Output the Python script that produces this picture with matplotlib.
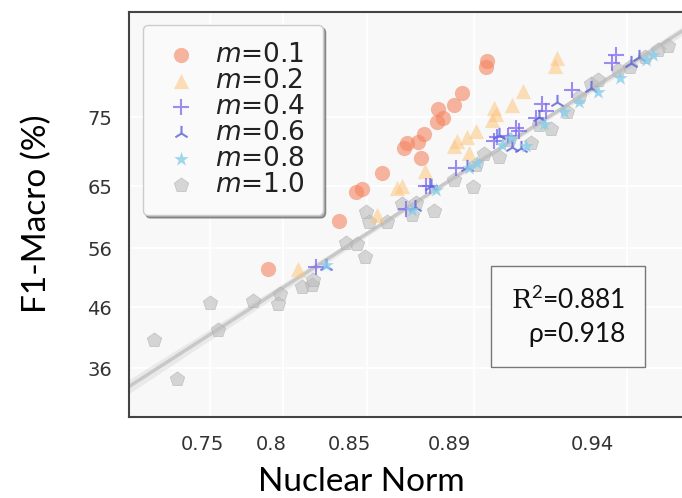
import matplotlib.pyplot as plt
import numpy as np

plt.rcParams['mathtext.fontset'] = 'custom'
plt.rcParams['mathtext.it'] = 'DejaVu Sans:italic'
plt.rcParams['mathtext.rm'] = 'DejaVu Serif'
plt.rcParams['mathtext.sf'] = 'Lato'

# data (x axis is not linear in the printed labels)
x01 = [0.7816, 0.8166, 0.8248, 0.8278, 0.8375, 0.8482, 0.8496, 0.8550, 0.8579,
       0.8564, 0.8642, 0.8671, 0.8647, 0.8725, 0.8764, 0.8880, 0.8885]
y01 = [51.38, 58.84, 63.35, 63.81, 66.30, 70.19, 70.97, 71.12, 72.36,
       68.63, 74.23, 74.85, 76.25, 76.87, 78.74, 82.77, 83.71]

x02 = [0.7962, 0.8351, 0.8448, 0.8472, 0.8584, 0.8725, 0.8739, 0.8788, 0.8832,
       0.8798, 0.8909, 0.8929, 0.8919, 0.9007, 0.9060, 0.9216, 0.9225]
y02 = [51.38, 59.78, 63.97, 64.28, 66.61, 70.50, 71.28, 71.90, 72.83,
       69.41, 74.54, 75.47, 76.40, 76.87, 79.05, 82.93, 84.17]

x04 = [0.8054, 0.8491, 0.8589, 0.8608, 0.8734, 0.8919, 0.8934, 0.8987, 0.9026,
       0.9041, 0.9123, 0.9152, 0.9172, 0.9298, 0.9493, 0.9517]
y04 = [51.70, 60.71, 64.28, 64.28, 67.08, 71.28, 71.90, 72.05, 73.30,
       72.83, 74.85, 77.03, 75.94, 79.20, 83.40, 84.64]

x06 = [0.8103, 0.8535, 0.8613, 0.8788, 0.9007, 0.9050, 0.9225, 0.9391, 0.9590,
       0.9629, 0.8943, 0.9138]
y06 = [51.85, 61.02, 64.28, 67.24, 70.34, 70.19, 77.34, 79.51, 83.40,
       84.33, 72.21, 75.01]

x08 = [0.8103, 0.8521, 0.8637, 0.8798, 0.8837, 0.8958, 0.9002, 0.9075, 0.9162,
       0.9259, 0.9332, 0.9429, 0.9536, 0.9663, 0.9697]
y08 = [52.01, 60.55, 63.66, 67.08, 67.86, 70.65, 71.74, 70.50, 73.92,
       75.78, 77.34, 78.89, 81.07, 83.86, 84.64]

x10 = [0.7262, 0.7374, 0.7534, 0.7573, 0.7743, 0.7874, 0.7869, 0.7986, 0.8030,
       0.8035, 0.8200, 0.8253, 0.8292, 0.8297, 0.8312, 0.8399, 0.8472, 0.8521,
       0.8540, 0.8628, 0.8817, 0.8832, 0.8871, 0.8943, 0.9099, 0.9196, 0.9274,
       0.9332, 0.9395, 0.9429, 0.9526, 0.9585, 0.9658, 0.9721, 0.9770, 0.9138,
       0.8992, 0.8725]
y10 = [40.35, 34.29, 46.10, 41.90, 46.41, 47.50, 45.95, 48.59, 48.90,
       49.68, 55.43, 55.27, 53.25, 60.24, 58.69, 58.69, 61.49, 59.78,
       61.64, 60.40, 64.13, 67.55, 69.25, 68.79, 70.97, 73.14, 75.78,
       78.11, 80.13, 80.76, 82.31, 82.77, 84.33, 85.42, 86.04, 73.76,
       71.43, 65.21]

xtick_pos = [0.75, 0.7835, 0.8214, 0.87, 0.94]
xtick_lab = ['0.75', '0.8', '0.85', '0.89', '0.94']
xgrid_pos = [0.7534, 0.7889, 0.8302, 0.8822, 0.9566]
ytick_pos = [36, 45.48, 54.65, 64.28, 75]
ytick_lab = ['36', '46', '56', '65', '75']

r2 = 0.881
rho = 0.918

fig = plt.figure(figsize=(6.82, 4.98), dpi=100)
ax = fig.add_axes([0.1891, 0.1627, 0.815, 0.8142])
ax.set_facecolor('#f8f8f8')
ax.set_xlim(0.714, 0.985)
ax.set_ylim(28.4, 91.4)

# regression on m>=0.4 with 95% band
xr = np.array(x04 + x06 + x08 + x10)
yr = np.array(y04 + y06 + y08 + y10)
b, a = np.polyfit(xr, yr, 1)
xs = np.linspace(0.714, 0.985, 100)
ys = a + b * xs
n = len(xr)
s = np.sqrt(np.sum((yr - (a + b * xr)) ** 2) / (n - 2))
se = s * np.sqrt(1.0 / n + (xs - xr.mean()) ** 2 / np.sum((xr - xr.mean()) ** 2))
ax.fill_between(xs, ys - 1.96 * se, ys + 1.96 * se, color='#c8c8c8', alpha=0.3, lw=0, zorder=1)
ax.plot(xs, ys, color='#c8c8c8', lw=2.5, zorder=1)

ms = 120
ax.scatter(x01, y01, s=ms, marker='o', color='#f4845f', alpha=0.6, lw=0, label='$m$=0.1', zorder=3)
ax.scatter(x02, y02, s=ms, marker='^', color='#fcc57f', alpha=0.55, lw=0, label='$m$=0.2', zorder=3)
ax.scatter(x04, y04, s=ms, marker='+', color='#7b68ee', alpha=0.75, lw=1.5, label='$m$=0.4', zorder=3)
ax.scatter(x06, y06, s=ms, marker='2', color='#5a62d8', alpha=0.8, lw=1.5, label='$m$=0.6', zorder=3)
ax.scatter(x08, y08, s=ms, marker='*', color='#87ceeb', alpha=0.8, lw=0, label='$m$=0.8', zorder=3)
ax.scatter(x10, y10, s=ms, marker='p', color='#bdbdbd', alpha=0.6, lw=0.5, edgecolor='#aaaaaa', label='$m$=1.0', zorder=2)

ax.set_xticks(xtick_pos)
ax.set_xticklabels(xtick_lab)
ax.set_xticks(xgrid_pos, minor=True)
ax.set_yticks(ytick_pos)
ax.set_yticklabels(ytick_lab)
ax.tick_params(which='both', length=0, labelsize=14, labelcolor='#333333')
ax.tick_params(axis='x', pad=13)
ax.tick_params(axis='y', pad=12)
ax.xaxis.grid(True, which='minor', color='white', lw=1.3)
ax.yaxis.grid(True, which='major', color='white', lw=1.3)
ax.set_axisbelow(True)

for sp in ['left', 'top', 'bottom']:
    ax.spines[sp].set_color('#444444')
    ax.spines[sp].set_linewidth(1.5)
ax.spines['right'].set_visible(False)

ax.set_xlabel('Nuclear Norm', fontsize=24, family='Lato')
ax.xaxis.set_label_coords(0.418, -0.16)
ax.xaxis.label.set_va('center')
ax.set_ylabel('F1-Macro (%)', fontsize=24, family='Lato')
ax.yaxis.set_label_coords(-0.166, 0.5)
ax.yaxis.label.set_va('center')

leg = ax.legend(loc='upper left', bbox_to_anchor=(0.025, 0.967), borderaxespad=0,
                fontsize=19, frameon=True, fancybox=True, shadow=True,
                labelspacing=0.0, handletextpad=0.5, borderpad=0.65, handlelength=1.6)
leg.get_frame().set_edgecolor('#cccccc')
leg.get_frame().set_facecolor('#fafafa')
for t in leg.get_texts():
    t.set_color('#222222')

ax.text(0.79, 0.248, '$\\mathrm{R}^{\\mathsf{2}}$=%.3f\nρ=%.3f' % (r2, rho),
        transform=ax.transAxes, ha='center', va='center', multialignment='right',
        fontsize=19, family=['Lato', 'DejaVu Sans'], linespacing=1.4, color='#111111',
        bbox=dict(boxstyle='square,pad=0.75', fc='#fafafa', ec='#777777', lw=1))

fig.savefig('out.png', dpi=100)
